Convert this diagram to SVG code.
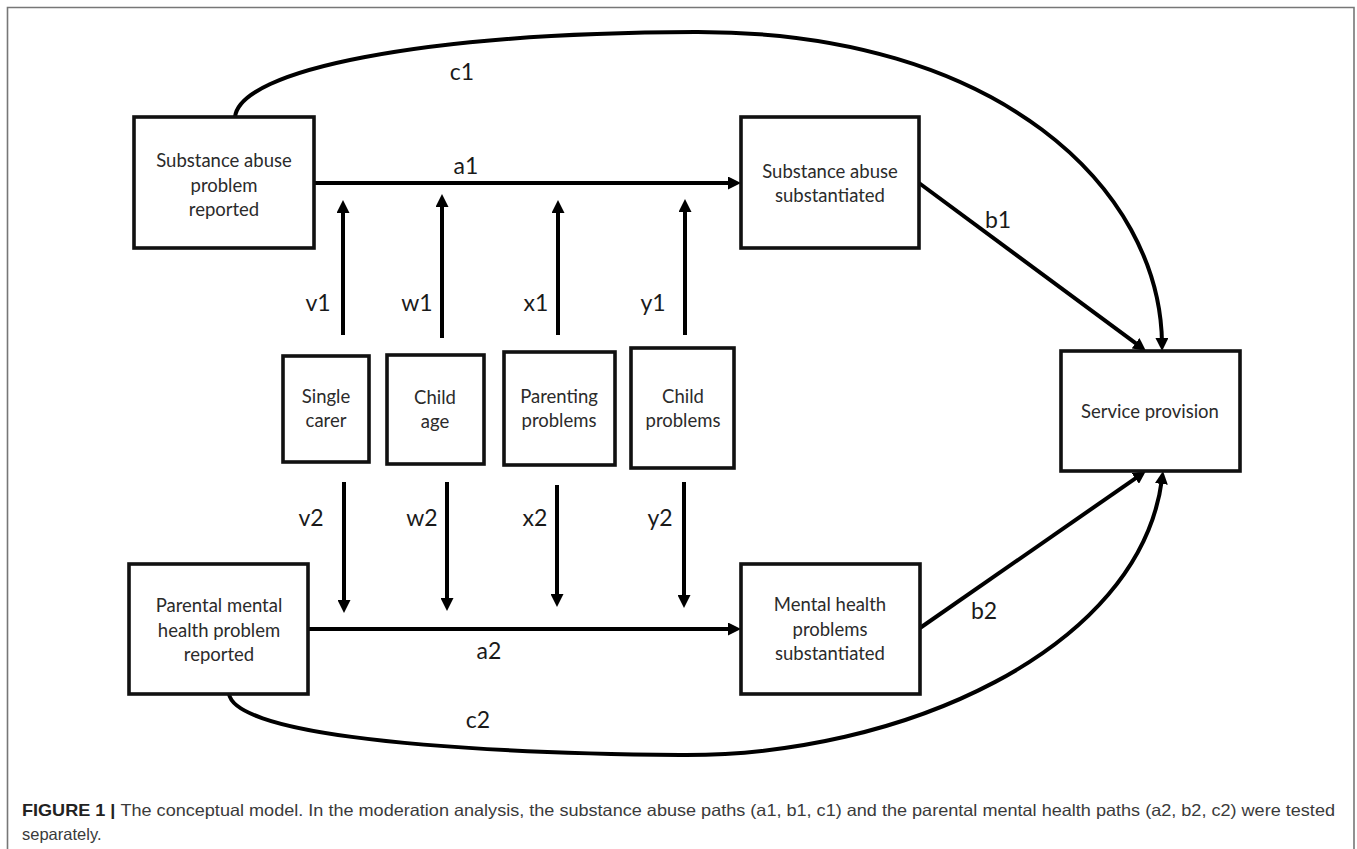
<svg xmlns="http://www.w3.org/2000/svg" width="1357" height="849" viewBox="0 0 1357 849">
<style>
.box{fill:#fff;stroke:#111;stroke-width:3.6}
.nt{font-family:Lato,"Open Sans","Liberation Sans",sans-serif;font-size:18.5px;fill:#2b2b2b;text-anchor:middle}
.lb{font-family:Lato,"Open Sans","Liberation Sans",sans-serif;font-size:23px;fill:#1a1a1a;text-anchor:middle}
.cn{fill:none;stroke:#000;stroke-width:4;marker-end:url(#ah)}
.cap{font-family:"Liberation Sans",Arial,sans-serif;font-size:16.5px;fill:#3a3a3a}
</style>
<defs>
<marker id="ah" markerUnits="userSpaceOnUse" markerWidth="13" markerHeight="13" viewBox="0 0 13 13" refX="5" refY="6.5" orient="auto">
<path d="M0,0 L13,6.5 L0,13 z" fill="#000"/>
</marker>
</defs>
<rect width="1357" height="849" fill="#fff"/>
<path d="M7.5,860 V7.5 H1354 V860" fill="none" stroke="#777" stroke-width="1.6"/>

<g id="connectors">
<path class="cn" d="M235,117 C240,70 420,33 695,32 C1000,31 1160,190 1162,343"/>
<path class="cn" d="M314,183 L733,183"/>
<path class="cn" d="M919,183 L1139.6,346.2"/>
<path class="cn" d="M308,629 L733,629"/>
<path class="cn" d="M920,628 L1139.4,475.6"/>
<path class="cn" d="M229,694 C235,730 400,752 680,755 C900,757 1140,650 1162,479"/>
<path class="cn" d="M343,335 L343,208"/>
<path class="cn" d="M442,338 L442,202"/>
<path class="cn" d="M558,335 L558,208"/>
<path class="cn" d="M685,335 L685,207"/>
<path class="cn" d="M344,482 L344,605"/>
<path class="cn" d="M447,482 L447,603"/>
<path class="cn" d="M557,485 L557,599"/>
<path class="cn" d="M684,482 L684,600"/>
</g>

<g id="labels">
<text class="lb" x="462" y="80">c1</text>
<text class="lb" x="466" y="174">a1</text>
<text class="lb" x="998" y="228">b1</text>
<text class="lb" x="318" y="311">v1</text>
<text class="lb" x="417" y="311">w1</text>
<text class="lb" x="536" y="311">x1</text>
<text class="lb" x="653" y="311">y1</text>
<text class="lb" x="311" y="526">v2</text>
<text class="lb" x="422" y="526">w2</text>
<text class="lb" x="535" y="526">x2</text>
<text class="lb" x="660" y="526">y2</text>
<text class="lb" x="984" y="619">b2</text>
<text class="lb" x="489" y="659">a2</text>
<text class="lb" x="478" y="728">c2</text>
</g>

<g id="n-sa-reported">
<rect class="box" x="134" y="117" width="180" height="131"/>
<text class="nt" x="224" y="167">Substance abuse</text>
<text class="nt" x="224" y="192">problem</text>
<text class="nt" x="224" y="216">reported</text>
</g>
<g id="n-sa-substantiated">
<rect class="box" x="741" y="117" width="178" height="131"/>
<text class="nt" x="830" y="178">Substance abuse</text>
<text class="nt" x="830" y="202">substantiated</text>
</g>
<g id="n-service">
<rect class="box" x="1061" y="351" width="179" height="120"/>
<text class="nt" x="1150" y="418">Service provision</text>
</g>
<g id="n-single">
<rect class="box" x="283" y="356" width="86" height="106"/>
<text class="nt" x="326" y="403">Single</text>
<text class="nt" x="326" y="427">carer</text>
</g>
<g id="n-childage">
<rect class="box" x="387" y="355" width="97" height="109"/>
<text class="nt" x="435" y="404">Child</text>
<text class="nt" x="435" y="428">age</text>
</g>
<g id="n-parenting">
<rect class="box" x="504" y="352" width="111" height="113"/>
<text class="nt" x="559" y="403">Parenting</text>
<text class="nt" x="559" y="427">problems</text>
</g>
<g id="n-childprob">
<rect class="box" x="631" y="348" width="103" height="120"/>
<text class="nt" x="683" y="403">Child</text>
<text class="nt" x="683" y="427">problems</text>
</g>
<g id="n-mh-reported">
<rect class="box" x="129" y="564" width="179" height="130"/>
<text class="nt" x="219" y="612">Parental mental</text>
<text class="nt" x="219" y="637">health problem</text>
<text class="nt" x="219" y="661">reported</text>
</g>
<g id="n-mh-substantiated">
<rect class="box" x="741" y="564" width="179" height="130"/>
<text class="nt" x="830" y="611">Mental health</text>
<text class="nt" x="830" y="636">problems</text>
<text class="nt" x="830" y="660">substantiated</text>
</g>

<g id="caption">
<text class="cap" x="22" y="816" textLength="1313" lengthAdjust="spacingAndGlyphs"><tspan font-weight="bold" fill="#222">FIGURE 1 | </tspan>The conceptual model. In the moderation analysis, the substance abuse paths (a1, b1, c1) and the parental mental health paths (a2, b2, c2) were tested</text>
<text class="cap" x="22" y="840">separately.</text>
</g>
</svg>
